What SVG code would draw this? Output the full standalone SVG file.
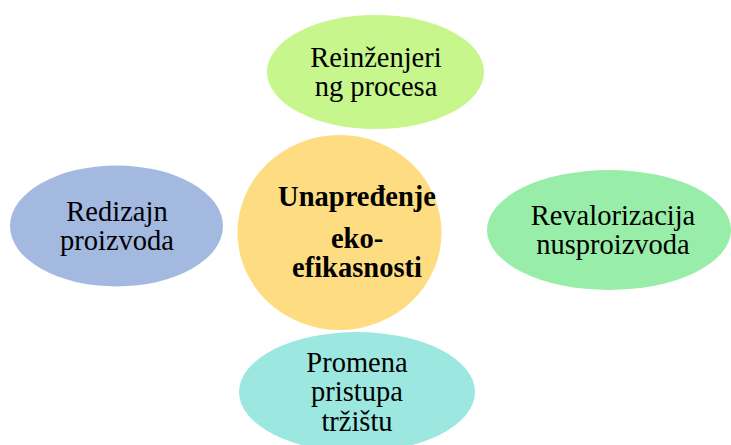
<svg xmlns="http://www.w3.org/2000/svg" width="731" height="445" viewBox="0 0 731 445">
<style>
text{font-family:"Liberation Serif","Times New Roman",serif;font-size:28.5px;fill:#000;text-anchor:middle}
.b{font-weight:bold;font-size:28.5px}
</style>
<rect width="731" height="445" fill="#fff"/>
<g id="connectors"></g>
<g id="center">
<ellipse cx="339.5" cy="232.5" rx="102" ry="97.5" fill="#FEDC82"/>
<text class="b" x="357" y="206">Unapređenje</text>
<text class="b" x="357" y="248">eko-</text>
<text class="b" x="357" y="277">efikasnosti</text>
</g>
<g id="top">
<ellipse cx="375.5" cy="72" rx="108.5" ry="57" fill="#C6F68C"/>
<text x="376" y="67">Reinženjeri</text>
<text x="376" y="96">ng procesa</text>
</g>
<g id="right">
<ellipse cx="609" cy="230" rx="122" ry="60" fill="#98EEA8"/>
<text x="613" y="225">Revalorizacija</text>
<text x="613" y="254">nusproizvoda</text>
</g>
<g id="left">
<ellipse cx="116.5" cy="226" rx="106.5" ry="60.5" fill="#A3B9E0"/>
<text x="117" y="221">Redizajn</text>
<text x="117" y="250">proizvoda</text>
</g>
<g id="bottom">
<ellipse cx="357" cy="392" rx="118" ry="60" fill="#9DE7E1"/>
<text x="357" y="372">Promena</text>
<text x="357" y="401">pristupa</text>
<text x="357" y="431">tržištu</text>
</g>
</svg>
